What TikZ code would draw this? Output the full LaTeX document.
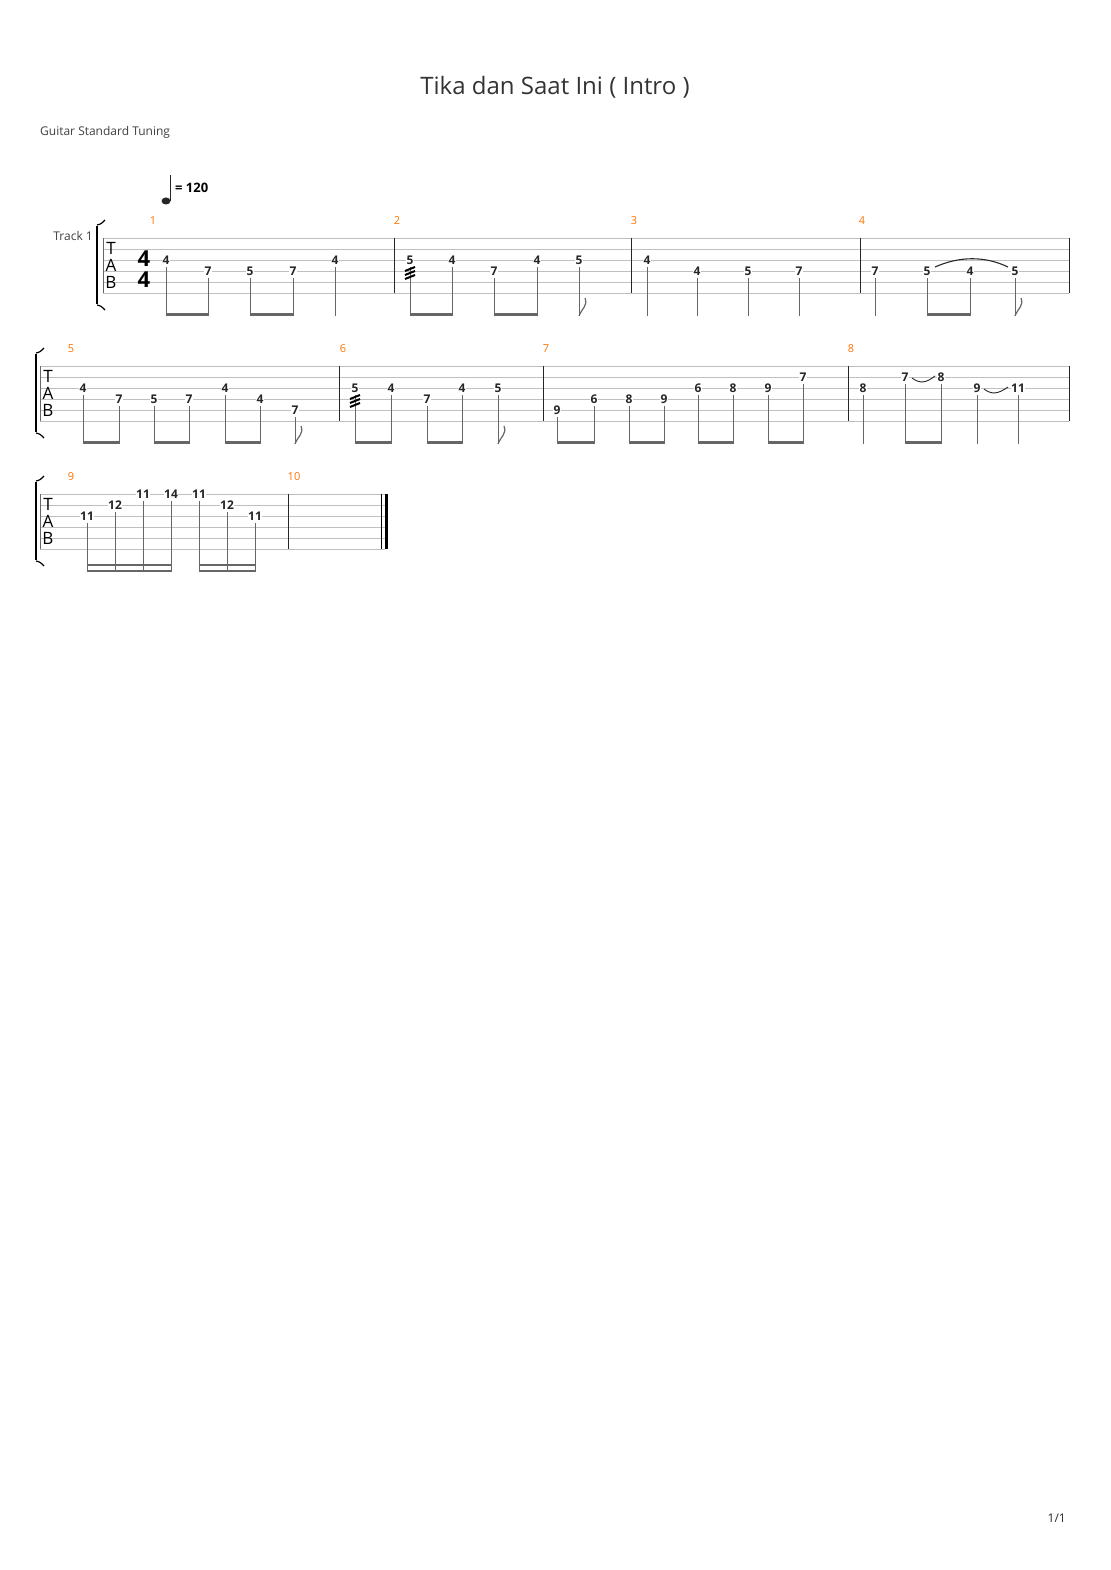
\documentclass[tikz,border=0pt]{standalone}
\usepackage{fontspec}
\setmainfont{Open Sans}
\begin{document}
\begin{tikzpicture}[x=1pt,y=-1pt,
  str/.style={draw=black!25,line width=0.8pt},
  bar/.style={draw=black!85,line width=1pt},
  num/.style={fill=white,inner sep=0.6pt,font=\fontsize{12}{12}\selectfont\bfseries,text=black!85},
  stemline/.style={draw=black!60,line width=0.8pt},
  beamline/.style={draw=black!60,line width=2.6pt},
  mnum/.style={font=\fontsize{11}{11}\selectfont,text=orange!90!red}]
\useasboundingbox (0,0) rectangle (1110,1570);
\newcommand\nt[3]{\node[num] at (#1,{\ty+11*(#2-1)}) {#3};}
\newcommand\stm[2]{\draw[stemline] (#1,{\ty+11*(#2-1)+7}) -- (#1,{\ty+78});}
\newcommand\bm[2]{\draw[beamline] (#1,{\ty+76.5}) -- (#2,{\ty+76.5});}
\newcommand\flg[1]{\draw[stemline,line width=1.2pt] (#1,{\ty+78}) .. controls (#1+3,{\ty+70}) and (#1+9,{\ty+68}) .. (#1+6,{\ty+60});}
\newcommand\trem[2]{\foreach \k in {0,1,2}{\draw[line width=2pt] (#1-5,{\ty+11*(#2-1)+11+4*\k}) -- (#1+5,{\ty+11*(#2-1)+7+4*\k});}}
\newcommand\tsys[3]{%
  \foreach \s in {0,...,5}{\draw[str] (#2,{\ty+11*\s}) -- (#3,{\ty+11*\s});}
  \draw[line width=0.8pt,black!60] (#2,\ty) -- (#2,{\ty+55});
  \node[font=\fontsize{17}{17}\selectfont,inner sep=0] at (#2+8,{\ty+10}) {T};
  \node[font=\fontsize{17}{17}\selectfont,inner sep=0] at (#2+8,{\ty+27}) {A};
  \node[font=\fontsize{17}{17}\selectfont,inner sep=0] at (#2+8,{\ty+44}) {B};
  \draw[line width=2.4pt] (#1,{\ty-12}) -- (#1,{\ty+66});
  \draw[line width=1.2pt] (#1,{\ty-13}) .. controls (#1+4,{\ty-14}) .. (#1+8,{\ty-18});
  \draw[line width=1.2pt] (#1,{\ty+67}) .. controls (#1+4,{\ty+68}) .. (#1+8,{\ty+72});}
% header
\node[font=\fontsize{24}{24}\selectfont,text=black!80] at (555,87) {Tika dan Saat Ini ( Intro )};
\node[anchor=west,font=\fontsize{12}{12}\selectfont,text=black!75,inner sep=0] at (40,132) {Guitar Standard Tuning};
\node[anchor=east,font=\fontsize{12}{12}\selectfont,text=black!75,inner sep=0] at (93,236) {Track 1};
\fill[black!85] (166,201) ellipse (4.5pt and 3.5pt);
\draw[line width=1pt,black!85] (170,201) -- (170,175);
\node[anchor=west,font=\fontsize{13}{13}\selectfont\bfseries,inner sep=0] at (175,188) {= 120};
\node[anchor=east,font=\fontsize{12}{12}\selectfont,text=black!85,inner sep=0] at (1066,1518) {1/1};
% ---------------- system 1
\def\ty{238}
\tsys{97}{103}{1069}
\foreach \b in {394,631,860,1069}{\draw[bar] (\b,\ty) -- (\b,{\ty+55});}
\node[font=\fontsize{22}{22}\selectfont\bfseries,inner sep=0] at (144,259) {4};
\node[font=\fontsize{22}{22}\selectfont\bfseries,inner sep=0] at (144,280) {4};
\foreach \x/\m in {153/1,397/2,634/3,862/4}{\node[mnum] at (\x,221) {\m};}
\foreach \x/\s/\f in {166/3/4,208/4/7,250/4/5,293/4/7,335/3/4,
  410/3/5,452/3/4,494/4/7,537/3/4,579/3/5,
  647/3/4,697/4/4,748/4/5,799/4/7,
  875/4/7,927/4/5,970/4/4,1015/4/5}{\stm{\x}{\s}}
\draw[black!85,line width=1.1pt] (935,{\ty+29}) .. controls (960,{\ty+18}) and (985,{\ty+18}) .. (1008,{\ty+29});
\foreach \x/\s/\f in {166/3/4,208/4/7,250/4/5,293/4/7,335/3/4,
  410/3/5,452/3/4,494/4/7,537/3/4,579/3/5,
  647/3/4,697/4/4,748/4/5,799/4/7,
  875/4/7,927/4/5,970/4/4,1015/4/5}{\nt{\x}{\s}{\f}}
\bm{166}{208}\bm{250}{293}\bm{410}{452}\bm{494}{537}\bm{927}{970}
\flg{579}\flg{1015}
\trem{410}{3}
% ---------------- system 2
\def\ty{366}
\tsys{36}{40}{1069}
\foreach \b in {339,543,848,1069}{\draw[bar] (\b,\ty) -- (\b,{\ty+55});}
\foreach \x/\m in {71/5,343/6,546/7,851/8}{\node[mnum] at (\x,349) {\m};}
\foreach \x/\s/\f in {83/3/4,119/4/7,154/4/5,189/4/7,225/3/4,260/4/4,295/5/7,
  355/3/5,391/3/4,427/4/7,462/3/4,498/3/5,
  557/5/9,594/4/6,629/4/8,664/4/9,698/3/6,733/3/8,768/3/9,803/2/7,
  863/3/8,905/2/7,941/2/8,977/3/9,1018/3/11}{\stm{\x}{\s}}
\draw[black!85,line width=0.9pt] (912,{\ty+12}) .. controls (920,{\ty+18}) and (926,{\ty+17}) .. (935,{\ty+10});
\draw[black!85,line width=0.9pt] (984,{\ty+23}) .. controls (992,{\ty+29}) and (998,{\ty+28}) .. (1008,{\ty+21});
\foreach \x/\s/\f in {83/3/4,119/4/7,154/4/5,189/4/7,225/3/4,260/4/4,295/5/7,
  355/3/5,391/3/4,427/4/7,462/3/4,498/3/5,
  557/5/9,594/4/6,629/4/8,664/4/9,698/3/6,733/3/8,768/3/9,803/2/7,
  863/3/8,905/2/7,941/2/8,977/3/9,1018/3/11}{\nt{\x}{\s}{\f}}
\bm{83}{119}\bm{154}{189}\bm{225}{260}\bm{355}{391}\bm{427}{462}
\bm{557}{594}\bm{629}{664}\bm{698}{733}\bm{768}{803}\bm{905}{941}
\flg{295}\flg{498}
\trem{355}{3}
% ---------------- system 3
\def\ty{494}
\tsys{36}{40}{385}
\draw[bar] (288,\ty) -- (288,{\ty+55});
\draw[line width=0.8pt] (381,\ty) -- (381,{\ty+55});
\draw[line width=3.5pt] (386.5,\ty) -- (386.5,{\ty+55});
\foreach \x/\m in {71/9,294/10}{\node[mnum] at (\x,477) {\m};}
\foreach \x/\s/\f in {87/3/11,115/2/12,143/1/11,171/1/14,199/1/11,227/2/12,255/3/11}{\stm{\x}{\s}}
\foreach \x/\s/\f in {87/3/11,115/2/12,143/1/11,171/1/14,199/1/11,227/2/12,255/3/11}{\nt{\x}{\s}{\f}}
\draw[beamline,line width=2pt] (87,{\ty+71}) -- (171,{\ty+71});
\draw[beamline,line width=2pt] (87,{\ty+76.5}) -- (171,{\ty+76.5});
\draw[beamline,line width=2pt] (199,{\ty+71}) -- (255,{\ty+71});
\draw[beamline,line width=2pt] (199,{\ty+76.5}) -- (255,{\ty+76.5});
\end{tikzpicture}
\end{document}
